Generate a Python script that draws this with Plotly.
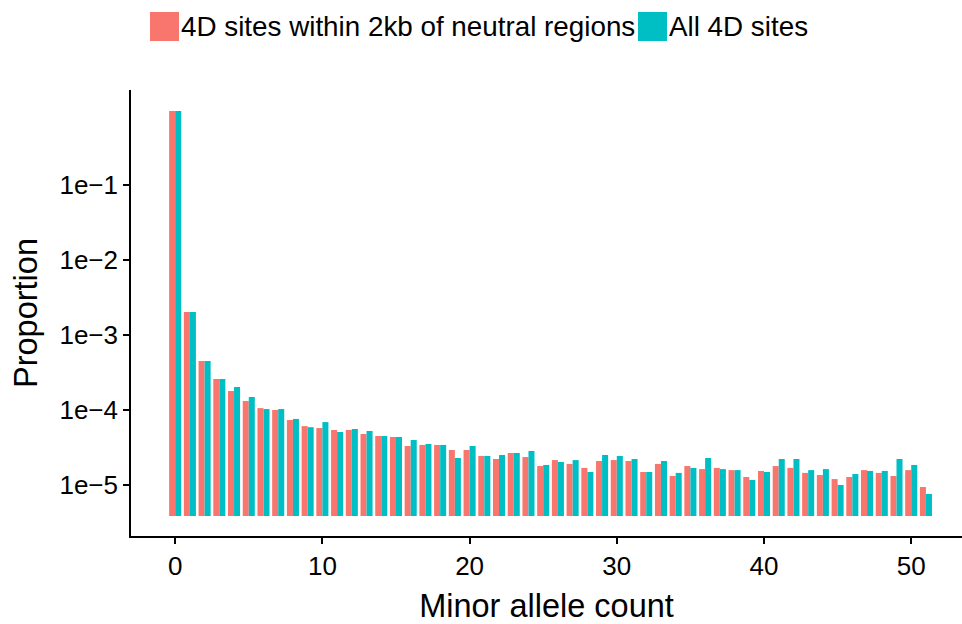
import plotly.graph_objects as go

# ---- data ----
minor_allele_count = list(range(52))
neutral_4d = [0.97, 2.03e-3, 4.5e-4, 2.59e-4, 1.79e-4, 1.32e-4, 1.06e-4, 1.0e-4, 7.36e-5, 6.1e-5,
              5.75e-5, 5.41e-5, 5.41e-5, 4.79e-5, 4.5e-5, 4.37e-5, 3.31e-5, 3.42e-5, 3.42e-5, 2.93e-5,
              2.93e-5, 2.44e-5, 2.22e-5, 2.67e-5, 2.36e-5, 1.79e-5, 2.15e-5, 1.91e-5, 1.69e-5, 2.09e-5,
              2.15e-5, 2.09e-5, 1.49e-5, 1.91e-5, 1.32e-5, 1.79e-5, 1.63e-5, 1.69e-5, 1.58e-5, 1.28e-5,
              1.54e-5, 1.79e-5, 1.69e-5, 1.45e-5, 1.36e-5, 1.2e-5, 1.28e-5, 1.58e-5, 1.45e-5, 1.32e-5,
              1.58e-5, 9.4e-6]
all_4d = [0.97, 2.03e-3, 4.5e-4, 2.59e-4, 2.03e-4, 1.49e-4, 1.03e-4, 1.03e-4, 7.6e-5, 5.9e-5,
          6.9e-5, 5.09e-5, 5.58e-5, 5.25e-5, 4.5e-5, 4.37e-5, 3.98e-5, 3.52e-5, 3.42e-5, 2.29e-5,
          3.31e-5, 2.44e-5, 2.51e-5, 2.67e-5, 2.84e-5, 1.85e-5, 2.03e-5, 2.15e-5, 1.49e-5, 2.51e-5,
          2.44e-5, 2.22e-5, 1.49e-5, 2.09e-5, 1.45e-5, 1.69e-5, 2.29e-5, 1.63e-5, 1.58e-5, 1.17e-5,
          1.49e-5, 2.22e-5, 2.22e-5, 1.58e-5, 1.63e-5, 1.0e-5, 1.4e-5, 1.54e-5, 1.54e-5, 2.22e-5,
          1.85e-5, 7.6e-6]
series_names = ["4D sites within 2kb of neutral regions", "All 4D sites"]
series_colors = ["#F8766D", "#00BFC4"]
y_tickvals = [1e-1, 1e-2, 1e-3, 1e-4, 1e-5]
y_ticktext = ["1e\u22121", "1e\u22122", "1e\u22123", "1e\u22124", "1e\u22125"]
x_tickvals = [0, 10, 20, 30, 40, 50]

BASE = 3.86e-6
FONT = "Liberation Sans, Arial, Helvetica, sans-serif"

W, H = 962, 624
ML, MR, MT, MB = 131, 0, 90, 88
PW, PH = W - ML - MR, H - MT - MB


def px_x(px):
    return (px - ML) / PW


def px_y(py):
    return (H - MB - py) / PH


fig = go.Figure()
for name, vals, col in zip(series_names, [neutral_4d, all_4d], series_colors):
    fig.add_trace(go.Bar(
        x=minor_allele_count,
        y=[v - BASE for v in vals],
        base=BASE,
        name=name,
        marker=dict(color=col, line=dict(width=0)),
        showlegend=False,
    ))

# custom legend (big square keys)
shapes = []
annotations = []
key_specs = [(150, series_names[0], series_colors[0]), (638, series_names[1], series_colors[1])]
for kx, name, col in key_specs:
    shapes.append(dict(type="rect", xref="paper", yref="paper",
                       x0=px_x(kx), x1=px_x(kx + 29), y0=px_y(41), y1=px_y(12),
                       fillcolor=col, line=dict(width=0)))
    annotations.append(dict(xref="paper", yref="paper", x=px_x(kx + 29), y=px_y(27),
                            xanchor="left", yanchor="middle", showarrow=False,
                            text=name, font=dict(size=27.8, color="black", family=FONT)))

fig.update_layout(
    width=W, height=H,
    margin=dict(l=ML, r=MR, t=MT, b=MB),
    paper_bgcolor="white", plot_bgcolor="white",
    barmode="group", bargap=0.18, bargroupgap=0,
    font=dict(family=FONT, color="black"),
    shapes=shapes, annotations=annotations,
    showlegend=False,
)
fig.update_xaxes(
    range=[-3.0, 53.45], tickvals=x_tickvals,
    showline=True, linecolor="black", linewidth=1.6,
    ticks="outside", ticklen=6, tickwidth=1.5, tickcolor="black",
    tickfont=dict(size=26, color="black", family=FONT),
    showgrid=False, zeroline=False,
    title=dict(text="Minor allele count", font=dict(size=32.5, color="black", family=FONT), standoff=14),
)
fig.update_yaxes(
    type="log", range=[-5.68, 0.2667],
    tickvals=y_tickvals, ticktext=y_ticktext,
    showline=True, linecolor="black", linewidth=1.6,
    ticks="outside", ticklen=6, tickwidth=1.5, tickcolor="black",
    tickfont=dict(size=26, color="black", family=FONT),
    showgrid=False, zeroline=False,
    title=dict(text="Proportion", font=dict(size=32.5, color="black", family=FONT), standoff=12),
)

fig.write_html("out.html")
